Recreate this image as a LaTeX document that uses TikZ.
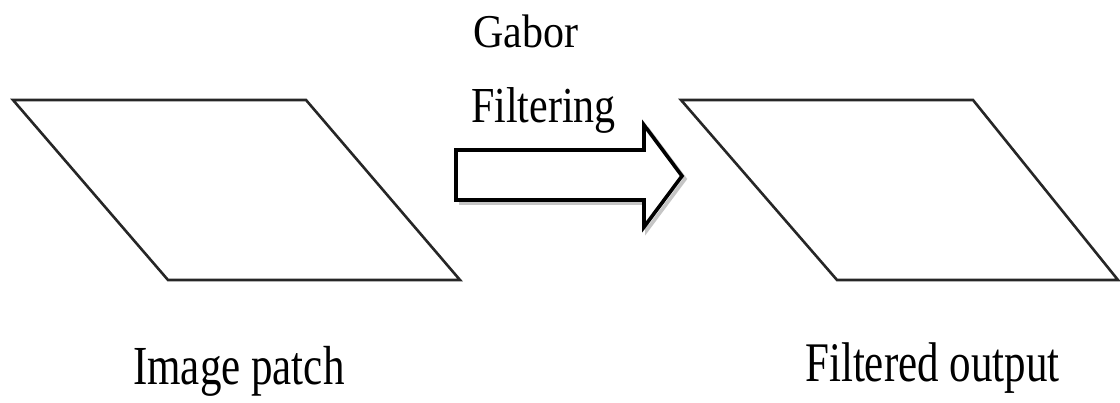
\documentclass[tikz,border=0pt]{standalone}
\usepackage{fontspec}
\usepackage{graphicx}
\setmainfont{Liberation Serif}
\tikzset{
  patch/.style={draw=black!85, line width=2.6pt, line join=miter},
  bigarrow/.style={draw=black, line width=3.6pt, fill=white, line join=miter},
  arrowshadow/.style={draw=black!45, line width=3.6pt, line join=miter, opacity=0.5},
  toplabel/.style={anchor=base west, inner sep=0pt, font=\fontsize{42}{48}\selectfont},
  botlabel/.style={anchor=base west, inner sep=0pt, font=\fontsize{43}{50}\selectfont}
}
\begin{document}
\begin{tikzpicture}[x=1pt, y=-1pt]
\useasboundingbox (0,0) rectangle (1120,403);
% left parallelogram (image patch)
\coordinate (l1) at (13,100);
\coordinate (l2) at (306,100);
\coordinate (l3) at (460,280);
\coordinate (l4) at (168,280);
\draw[patch] (l1) -- (l2) -- (l3) -- (l4) -- cycle;
% right parallelogram (filtered output)
\coordinate (r1) at (681,100);
\coordinate (r2) at (973,100);
\coordinate (r3) at (1118,280);
\coordinate (r4) at (837,280);
\draw[patch] (r1) -- (r2) -- (r3) -- (r4) -- cycle;
% block arrow
\draw[arrowshadow] (459,203) -- (647,203) -- (647,230) -- (685,179) -- (647,128);
\draw[bigarrow] (456,150) -- (644,150) -- (644,125) -- (682,176) -- (644,227) -- (644,200) -- (456,200) -- cycle;
% labels
\node[toplabel] (gabor) at (473,48) {\scalebox{1}[1.12]{Gabor}};
\node[toplabel] (filt) at (471,123) {\scalebox{1}[1.2]{Filtering}};
\node[botlabel] (ip) at (133,385) {\scalebox{1}[1.28]{Image patch}};
\node[botlabel] (fo) at (805,382) {\scalebox{1}[1.3]{Filtered output}};
\end{tikzpicture}
\end{document}
